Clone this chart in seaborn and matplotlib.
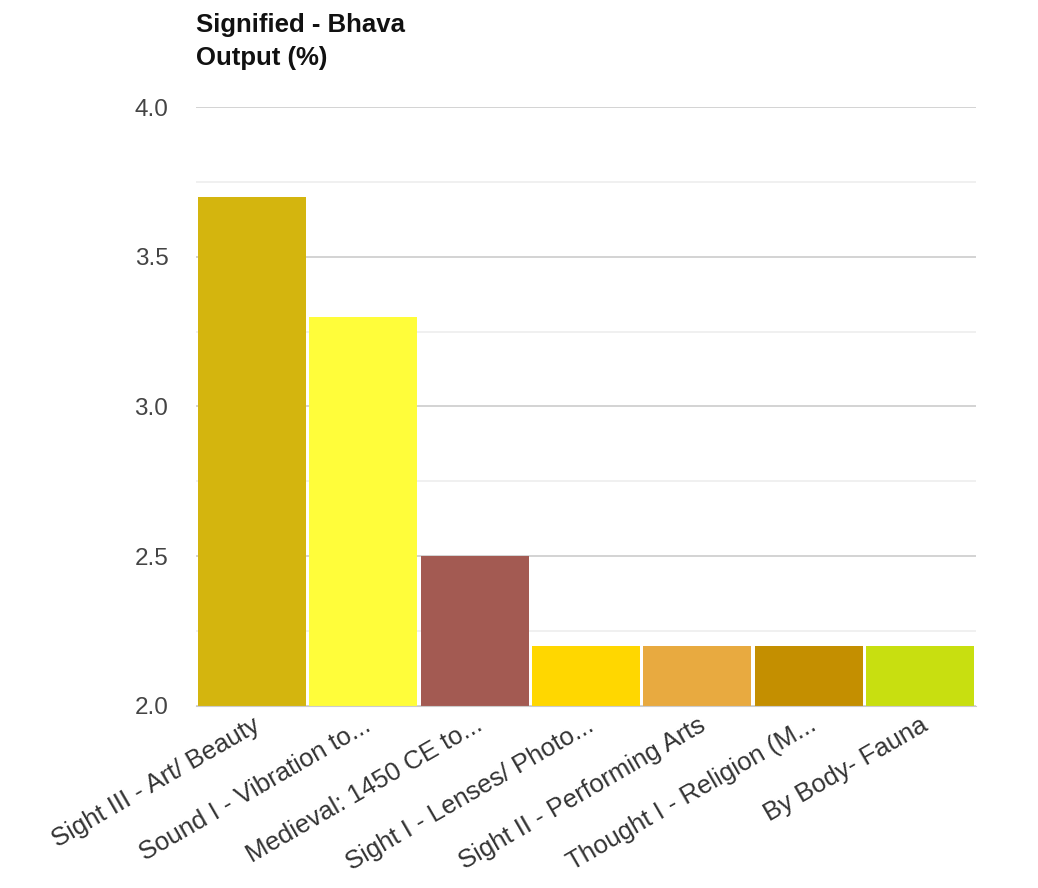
import matplotlib
matplotlib.use("Agg")
import matplotlib.pyplot as plt
import seaborn as sns
import pandas as pd
from matplotlib.ticker import MultipleLocator

categories = ["Sight III - Art/ Beauty", "Sound I - Vibration to...", "Medieval: 1450 CE to...",
              "Sight I - Lenses/ Photo...", "Sight II - Performing Arts", "Thought I - Religion (M...",
              "By Body- Fauna"]
values = [3.7, 3.3, 2.5, 2.2, 2.2, 2.2, 2.2]
colors = ["#D4B50E", "#FFFD3A", "#A35A52", "#FFD700", "#E8AA40", "#C48F00", "#C8DF10"]
yticks = [2.0, 2.5, 3.0, 3.5, 4.0]

sns.set_style("white")
plt.rcParams['font.family'] = ['Liberation Sans', 'DejaVu Sans']

df = pd.DataFrame({"cat": categories, "val": values})
fig = plt.figure(figsize=(10.38, 8.88), dpi=100)
ax = fig.add_axes([0.189, 0.205, 0.751, 0.6745])
sns.barplot(data=df, x="cat", y="val", hue="cat", palette=colors, legend=False,
            width=0.97, ax=ax, saturation=1, edgecolor="none")

ax.set_ylim(2.0, 4.0)
ax.set_xlim(-0.5, len(categories) - 0.5)
ax.set_yticks(yticks)
ax.set_yticklabels([f"{t:.1f}" for t in yticks])
ax.yaxis.set_minor_locator(MultipleLocator(0.25))
ax.grid(axis="y", which="major", color="#cccccc", linewidth=1.2, zorder=0)
ax.grid(axis="y", which="minor", color="#eeeeee", linewidth=1.2, zorder=0)
ax.set_axisbelow(True)
for s in ["top", "right", "left"]:
    ax.spines[s].set_visible(False)
ax.spines["bottom"].set_color("#cccccc")
ax.tick_params(axis="y", which="both", length=0, labelsize=17.5, labelcolor="#444444", pad=20)
ax.tick_params(axis="x", length=0, labelsize=18.5, labelcolor="#333333", pad=5)
plt.setp(ax.get_xticklabels(), rotation=30, ha="right", rotation_mode="anchor")
ax.set_xlabel("")
ax.set_ylabel("")

fig.text(0.189, 0.985, "Signified - Bhava\nOutput (%)", fontsize=18.5, fontweight="bold",
         ha="left", va="top", color="#111111", linespacing=1.45)

fig.savefig("out.png", dpi=100)
